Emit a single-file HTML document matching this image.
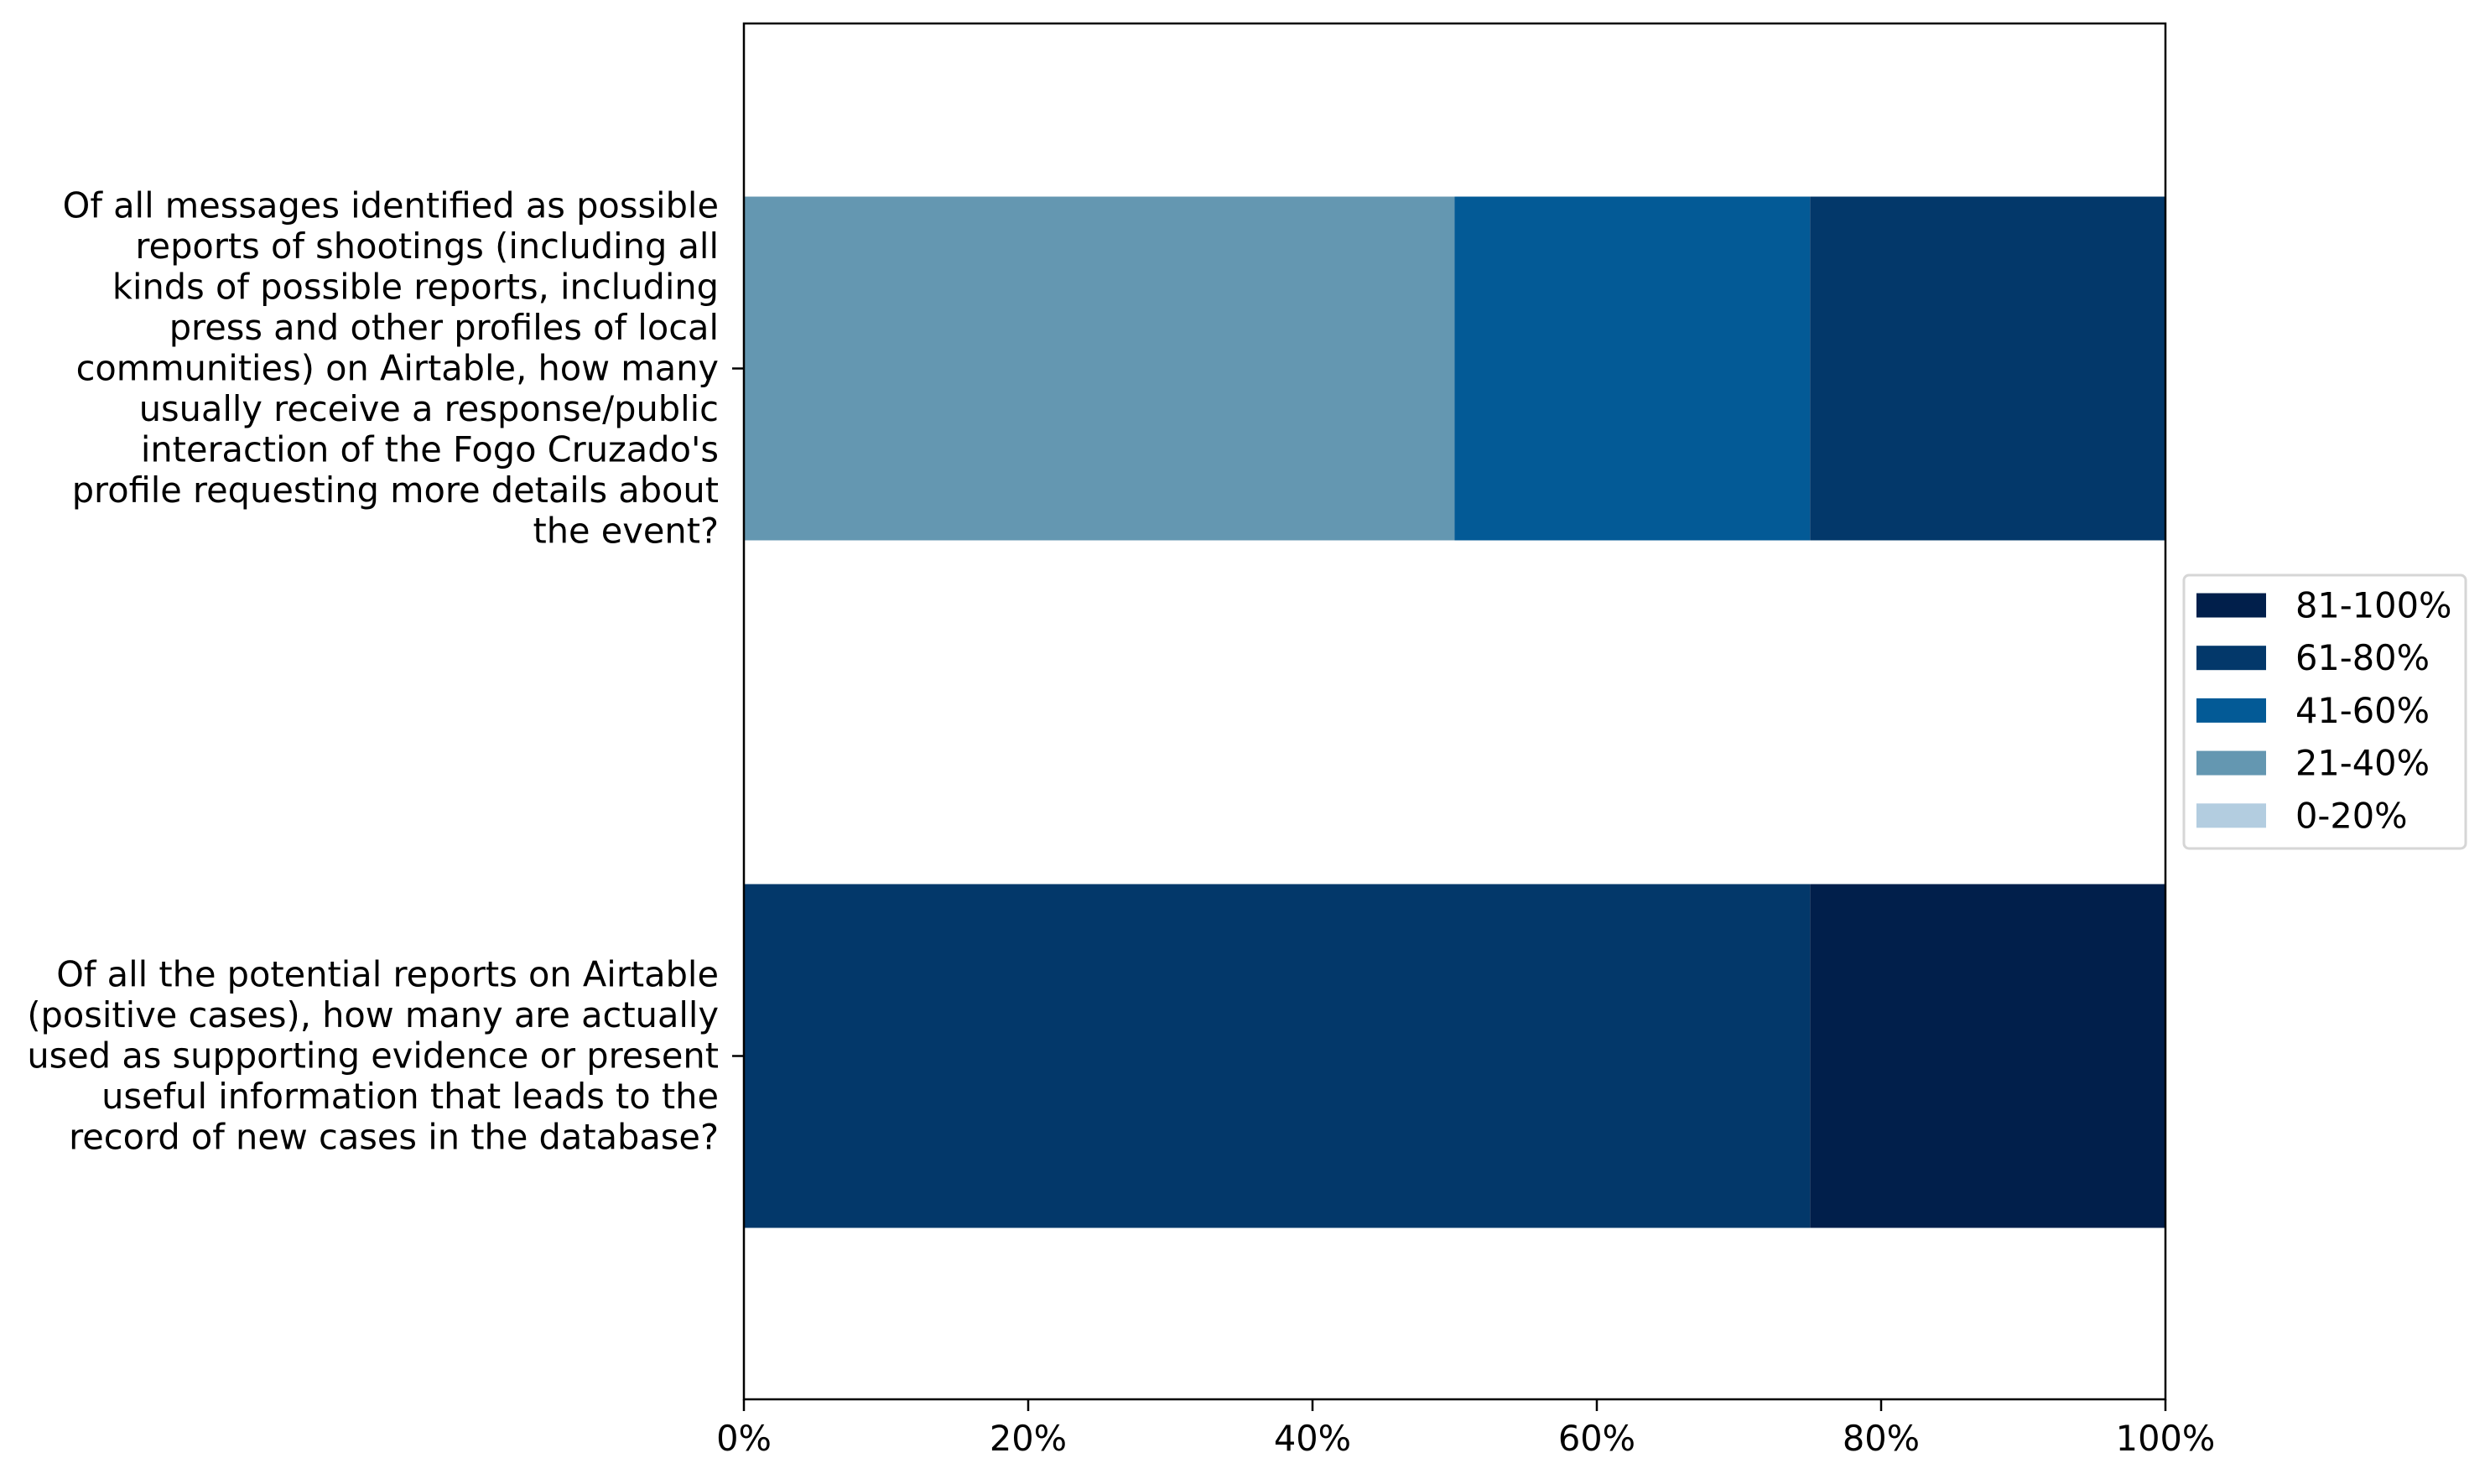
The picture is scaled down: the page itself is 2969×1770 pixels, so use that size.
<!DOCTYPE html>
<html><head><meta charset="utf-8"><style>
html,body{margin:0;padding:0;background:#fff;}
svg{display:block;font-family:"DejaVu Sans","Liberation Sans",sans-serif;}
</style></head><body>
<svg id="chart" width="2969" height="1770" viewBox="0 0 2969 1770" xmlns="http://www.w3.org/2000/svg">
<g id="plot"></g>
</svg>
<script>
const categories = [
 ["Of all messages identified as possible","reports of shootings (including all","kinds of possible reports, including","press and other profiles of local","communities) on Airtable, how many","usually receive a response/public","interaction of the Fogo Cruzado's","profile requesting more details about","the event?"],
 ["Of all the potential reports on Airtable","(positive cases), how many are actually","used as supporting evidence or present","useful information that leads to the","record of new cases in the database?"]
];
const seriesNames = ["0-20%","21-40%","41-60%","61-80%","81-100%"];
const seriesColors = ["#b3cde0","#6497b1","#035a96","#03386a","#011f4b"];
const s0 = [0, 0];
const s1 = [0.5, 0];
const s2 = [0.25, 0];
const s3 = [0.25, 0.75];
const s4 = [0, 0.25];
const xTicks = [0,0.2,0.4,0.6,0.8,1.0];
const xTickLabels = ["0%","20%","40%","60%","80%","100%"];

const L=887, R=2582, T=28, B=1669;
const FS=41.5;
const NS="http://www.w3.org/2000/svg";
const g=document.getElementById('plot');
function x(v){return L+(R-L)*v;}
function y(i){return 439.5+820*i;}
const barH=410;
function el(t,a){const e=document.createElementNS(NS,t);for(const k in a)e.setAttribute(k,a[k]);g.appendChild(e);return e;}
const series=[s0,s1,s2,s3,s4];
for(let c=0;c<categories.length;c++){
  let acc=0;
  for(let s=0;s<series.length;s++){
    const v=series[s][c];
    if(v>0){
      const r=el('rect',{x:x(acc),y:y(c)-barH/2,width:x(acc+v)-x(acc),height:barH,fill:seriesColors[s]});
      
      
    }
    acc+=v;
  }
  const t=el('line',{x1:L-14,x2:L,y1:y(c),y2:y(c),stroke:'#000','stroke-width':2.5});
  
  
  const lines=categories[c];
  const lh=48.5;
  const tx=el('text',{x:857,'text-anchor':'end','font-size':FS,fill:'#000'});
  
  
  const first=y(c)-(lines.length-1)*lh/2+14;
  lines.forEach((ln,i)=>{const ts=document.createElementNS(NS,'tspan');ts.setAttribute('x',857);ts.setAttribute('y',first+i*lh);ts.textContent=ln;tx.appendChild(ts);});
}
const fr=el('rect',{x:L,y:T,width:R-L,height:B-T,fill:'none',stroke:'#000','stroke-width':2.5});


xTicks.forEach((v,i)=>{
  const l=el('line',{x1:x(v),x2:x(v),y1:B,y2:B+14,stroke:'#000','stroke-width':2.5});
  
  
  const t=el('text',{x:x(v),y:B+61,'text-anchor':'middle','font-size':FS,fill:'#000'});
  t.textContent=xTickLabels[i];
  
  
});
const lg=el('rect',{x:2604,y:686,width:336,height:326,rx:6,fill:'#fff',stroke:'#d6d6d6','stroke-width':3});


for(let k=0;k<5;k++){
  const s=4-k;
  const cy=722+62.7*k;
  const sw=el('rect',{x:2619,y:cy-14.5,width:83,height:29,fill:seriesColors[s]});
  
  
  const t=el('text',{x:2737,y:cy+14.5,'font-size':FS,fill:'#000'});
  t.textContent=seriesNames[s];
  
  
}
</script>
</body></html>
